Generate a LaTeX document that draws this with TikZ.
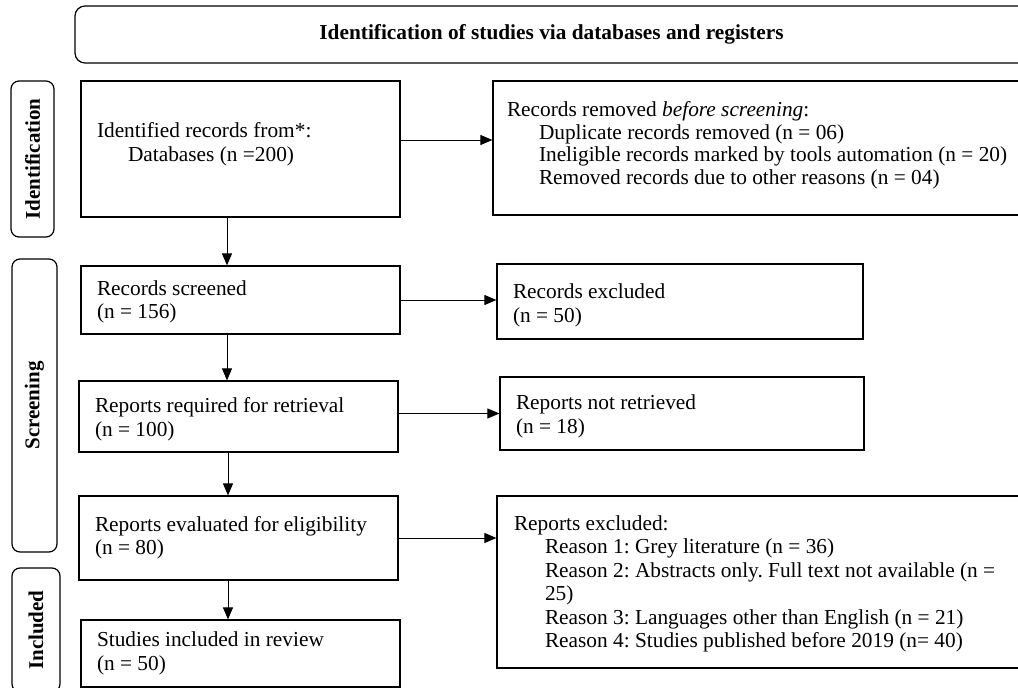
\documentclass[tikz,border=0pt]{standalone}
\usepackage{fontspec}
\setmainfont{Liberation Serif}
\newcommand\bodysize[1]{\fontsize{21.33}{#1}\selectfont}
\newcommand\bsp{\spaceskip=0.25em\xspaceskip=0.25em\relax}
\usetikzlibrary{arrows.meta}
\begin{document}
\begin{tikzpicture}[x=1pt,y=-1pt,
  txt/.style={font=\bodysize{23.5}},
  box/.style={draw, line width=1.2pt, rectangle, align=left, inner xsep=16pt, inner ysep=0pt, txt},
  lab/.style={draw, line width=1.2pt, rounded corners=8pt, rotate=90, align=center, inner sep=0pt, font=\fontsize{21}{23}\selectfont\bfseries},
  banner/.style={draw, line width=1.2pt, rounded corners=10pt, align=center, inner sep=0pt, font=\fontsize{21.33}{23.5}\selectfont\bfseries},
  arr/.style={line width=1pt, -{Triangle[length=12pt,width=10pt]}}
]
\useasboundingbox (0,0) rectangle (1018,688);

% banner and phase labels
\node[banner, minimum width=953pt, minimum height=57pt] (title) at (551.5,34.5) {Identification of studies via databases and registers};
\node[lab, minimum width=156pt, minimum height=43pt] (idlab) at (32.5,159) {Identification};
\node[lab, minimum width=293pt, minimum height=45pt] (scrlab) at (34.5,405.5) {Screening};
\node[lab, minimum width=124pt, minimum height=48pt] (inclab) at (36,630) {Included};

% left column
\node[box, text width=287pt, minimum height=136pt] (idbox) at (240.5,149)
  {\bsp Identified records from*:\\\hspace*{31pt}Databases (n =200)\rule[-14pt]{0pt}{14pt}};
\node[box, text width=287pt, minimum height=68pt] (screened) at (240.5,300)
  {\bsp\rule{0pt}{19pt}Records screened\\(n = 156)};
\node[box, text width=287pt, minimum height=71pt] (retrieval) at (238.5,416.5)
  {\bsp\rule{0pt}{21pt}Reports required for retrieval\\(n = 100)};
\node[box, text width=287pt, minimum height=84pt] (eligibility) at (238.5,538)
  {\bsp Reports evaluated for eligibility\\(n = 80)};
\node[box, text width=287pt, minimum height=67pt] (included) at (240.5,653.5)
  {\bsp Studies included in review\\(n = 50)};

% right column
\node[box, inner xsep=14pt, text width=519pt, minimum height=134pt,
      font=\bodysize{22.7}] (removed) at (766.5,148)
  {\bsp Records removed \textit{before screening}:\\
   \hspace*{32pt}Duplicate records removed (n = 06)\\
   \hspace*{32pt}Ineligible records marked by tools automation (n = 20)\\
   \hspace*{32pt}Removed records due to other reasons (n = 04)\rule[-10pt]{0pt}{10pt}};
\node[box, text width=334pt, minimum height=75pt] (excluded) at (680,301.5)
  {\bsp\rule{0pt}{23pt}Records excluded\\(n = 50)};
\node[box, text width=332pt, minimum height=73pt] (notretr) at (682,413.5)
  {\bsp\rule{0pt}{21pt}Reports not retrieved\\(n = 18)};
\node[box, inner xsep=17pt, text width=509pt, minimum height=172pt] (repexcl) at (768.5,582)
  {\bsp\rule{0pt}{19pt}Reports excluded:\\
   \hspace*{31pt}Reason 1: Grey literature (n = 36)\\
   \hspace*{31pt}Reason 2: Abstracts only. Full text not available (n =\\
   \hspace*{31pt}25)\\
   \hspace*{31pt}Reason 3: Languages other than English (n = 21)\\
   \hspace*{31pt}Reason 4: Studies published before 2019 (n= 40)};

% connectors
\coordinate (a1) at ([yshift=9pt]idbox.east);
\draw[arr] (a1) -- (a1 -| removed.west);
\draw[arr] (screened.east) -- (screened.east -| excluded.west);
\draw[arr] (retrieval.east |- notretr.west) -- (notretr.west);
\draw[arr] (eligibility.east) -- (eligibility.east -| repexcl.west);

\coordinate (v1) at ([xshift=-13.5pt]idbox.south);
\draw[arr] (v1) -- (v1 |- screened.north);
\coordinate (v2) at ([xshift=-13.5pt]screened.south);
\draw[arr] (v2) -- (v2 |- retrieval.north);
\coordinate (v3) at ([xshift=-10.5pt]retrieval.south);
\draw[arr] (v3) -- (v3 |- eligibility.north);
\coordinate (v4) at ([xshift=-10.5pt]eligibility.south);
\draw[arr] (v4) -- (v4 |- included.north);
\end{tikzpicture}
\end{document}
